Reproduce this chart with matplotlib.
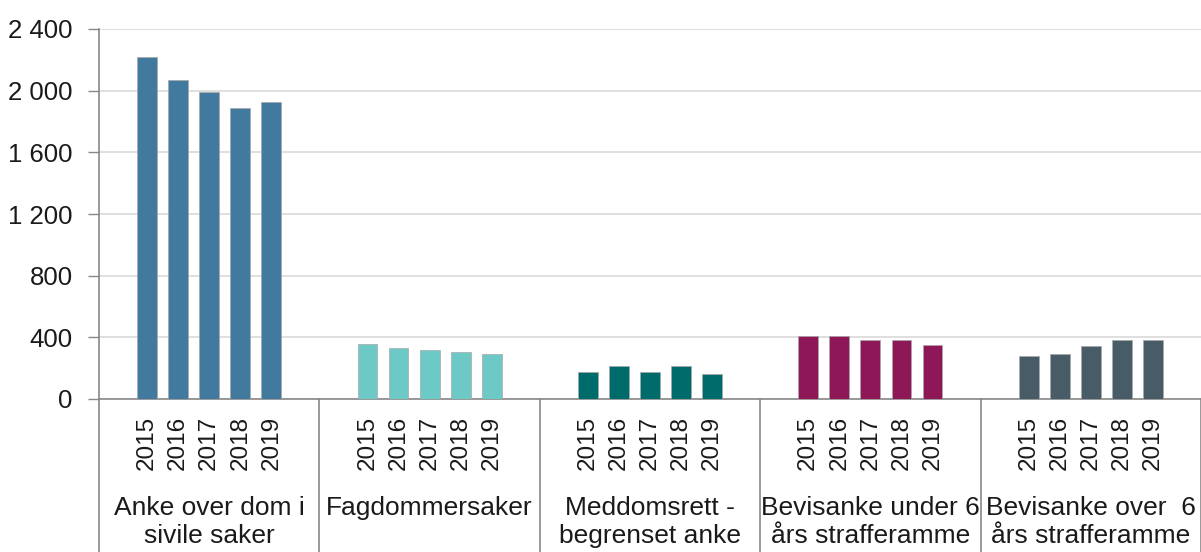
import numpy as np
import matplotlib.pyplot as plt
from matplotlib.transforms import blended_transform_factory

plt.rcParams['font.family'] = ['Liberation Sans', 'DejaVu Sans']

years = ['2015', '2016', '2017', '2018', '2019']
groups = ['Anke over dom i\nsivile saker', 'Fagdommersaker', 'Meddomsrett -\nbegrenset anke',
          'Bevisanke under 6\nårs strafferamme', 'Bevisanke over  6\nårs strafferamme']
values = [
    [2220, 2068, 1990, 1886, 1926],
    [357, 331, 318, 305, 292],
    [175, 214, 175, 214, 162],
    [409, 409, 383, 383, 352],
    [279, 292, 344, 383, 383],
]
colors = ['#41799f', '#6cc9c6', '#006b6b', '#8e1757', '#485c68']

fig = plt.figure(figsize=(12.01, 5.52), dpi=100)
ax = fig.add_axes([99/1201, 1 - 399/552, 1102/1201, 370/552])

step = 0.141
width = 0.09
xticks = []
for g, vals in enumerate(values):
    xs = g + (np.arange(len(vals)) - 2) * step
    ax.bar(xs, vals, width=width, color=colors[g], edgecolor='#a8a8a8', linewidth=0.5, zorder=3)
    xticks.extend(xs)

ax.set_xlim(-0.5, len(groups) - 0.5)
ax.set_ylim(0, 2400)
ax.set_yticks(range(0, 2401, 400))
ax.set_yticklabels(['{:,}'.format(v).replace(',', ' ') for v in range(0, 2401, 400)])
ax.yaxis.grid(True, color='#d9d9d9', linewidth=1.2, zorder=0)
ax.set_xticks(xticks)
ax.set_xticklabels(years * len(groups), rotation=90)
ax.tick_params(axis='x', length=0, pad=12, labelsize=17.5, labelcolor='#1a1a1a')
ax.tick_params(axis='y', length=8, width=1, color='#888888', labelsize=18.5, labelcolor='#1a1a1a', pad=11)

for s in ['top', 'right']:
    ax.spines[s].set_visible(False)
ax.spines['left'].set_color('#888888')
ax.spines['bottom'].set_color('#888888')
ax.spines['left'].set_linewidth(1.2)
ax.spines['bottom'].set_linewidth(1.2)

# separators and group labels under the axis
trans = blended_transform_factory(ax.transData, ax.transAxes)
bottom = -153 / 370
for g in range(len(groups) + 1):
    ax.plot([g - 0.5, g - 0.5], [0, bottom], transform=trans, color='#888888',
            linewidth=1.2, clip_on=False)
for g, name in enumerate(groups):
    ax.text(g, -97 / 370, name, transform=trans, ha='center', va='top', fontsize=19,
            color='#1a1a1a', linespacing=1.2)

fig.savefig('out.png', dpi=100)
